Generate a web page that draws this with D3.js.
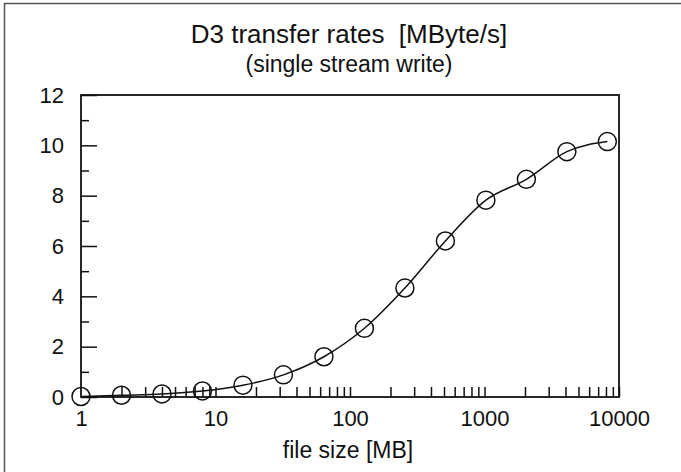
<!DOCTYPE html>
<html><head><meta charset="utf-8">
<script src="https://cdn.jsdelivr.net/npm/d3@7"></script>
<style>body{margin:0;background:#fff}svg{display:block}text{font-family:"Liberation Sans",Arial,sans-serif;fill:#111}</style>
</head><body>
<script>
const fileSizes = [1, 2, 4, 8, 16, 32, 64, 128, 256, 512, 1024, 2048, 4096, 8192];
const rates = [0.02, 0.07, 0.12, 0.24, 0.47, 0.88, 1.6, 2.73, 4.33, 6.2, 7.82, 8.65, 9.75, 10.15];
const xTickLabels = [1, 10, 100, 1000, 10000];
const yTickLabels = [0, 2, 4, 6, 8, 10, 12];
const yMinorTicks = [1, 3, 5, 7, 9, 11];
const title = "D3 transfer rates\u00a0\u00a0[MByte/s]";
const subtitle = "(single stream write)";
const xLabel = "file size [MB]";

const W = 681, H = 472;
const m = {left: 81, right: 62, top: 95, bottom: 75};
const svg = d3.select("body").append("svg").attr("width", W).attr("height", H);

// outer frame
svg.append("rect").attr("x", 4.5).attr("y", 3.5).attr("width", W).attr("height", H)
  .attr("fill", "none").attr("stroke", "#555").attr("stroke-width", 1.5);

const x = d3.scaleLog().domain([1, 10000]).range([m.left, W - m.right]);
const y = d3.scaleLinear().domain([0, 12]).range([H - m.bottom, m.top]);

// titles
svg.append("text").attr("x", 349).attr("y", 43).attr("text-anchor", "middle")
  .style("font-size", "26px").text(title);
svg.append("text").attr("x", 349).attr("y", 72).attr("text-anchor", "middle")
  .style("font-size", "23px").text(subtitle);
svg.append("text").attr("x", 348).attr("y", 458).attr("text-anchor", "middle")
  .style("font-size", "23px").text(xLabel);

// y axis
const yAx = svg.append("g").attr("transform", `translate(${m.left},0)`)
  .call(d3.axisLeft(y).tickValues(yTickLabels).tickSize(-16).tickPadding(17).tickFormat(d3.format("d")));
svg.append("g").attr("transform", `translate(${m.left},0)`)
  .call(d3.axisLeft(y).tickValues(yMinorTicks).tickSize(-8).tickFormat(""));
// x axis
const minor = [];
for (let d = 1; d < 10000; d *= 10) for (let k = 2; k <= 10; k++) minor.push(k * d);
svg.append("g").attr("transform", `translate(0,${H - m.bottom})`)
  .call(d3.axisBottom(x).tickValues(minor).tickSize(-10).tickFormat(""));
svg.append("g").attr("transform", `translate(0,${H - m.bottom})`)
  .call(d3.axisBottom(x).tickValues(xTickLabels).tickSize(0).tickPadding(13).tickFormat(d3.format("d")));

svg.selectAll(".domain").remove();
svg.selectAll(".tick line").attr("stroke", "#111").attr("stroke-width", 1.5);
svg.selectAll(".tick text").style("font-size", "22px").attr("fill", "#111");

// frame box
svg.append("rect").attr("x", m.left).attr("y", m.top)
  .attr("width", W - m.left - m.right).attr("height", H - m.top - m.bottom)
  .attr("fill", "none").attr("stroke", "#111").attr("stroke-width", 1.8);

const pts = fileSizes.map((s, i) => [s, rates[i]]);
svg.append("path").datum(pts)
  .attr("d", d3.line().x(d => x(d[0])).y(d => y(d[1])).curve(d3.curveMonotoneX))
  .attr("fill", "none").attr("stroke", "#111").attr("stroke-width", 1.5);
svg.selectAll("circle.pt").data(pts).join("circle").attr("class", "pt")
  .attr("cx", d => x(d[0])).attr("cy", d => y(d[1])).attr("r", 9)
  .attr("fill", "none").attr("stroke", "#111").attr("stroke-width", 1.5);
</script>
</body></html>
